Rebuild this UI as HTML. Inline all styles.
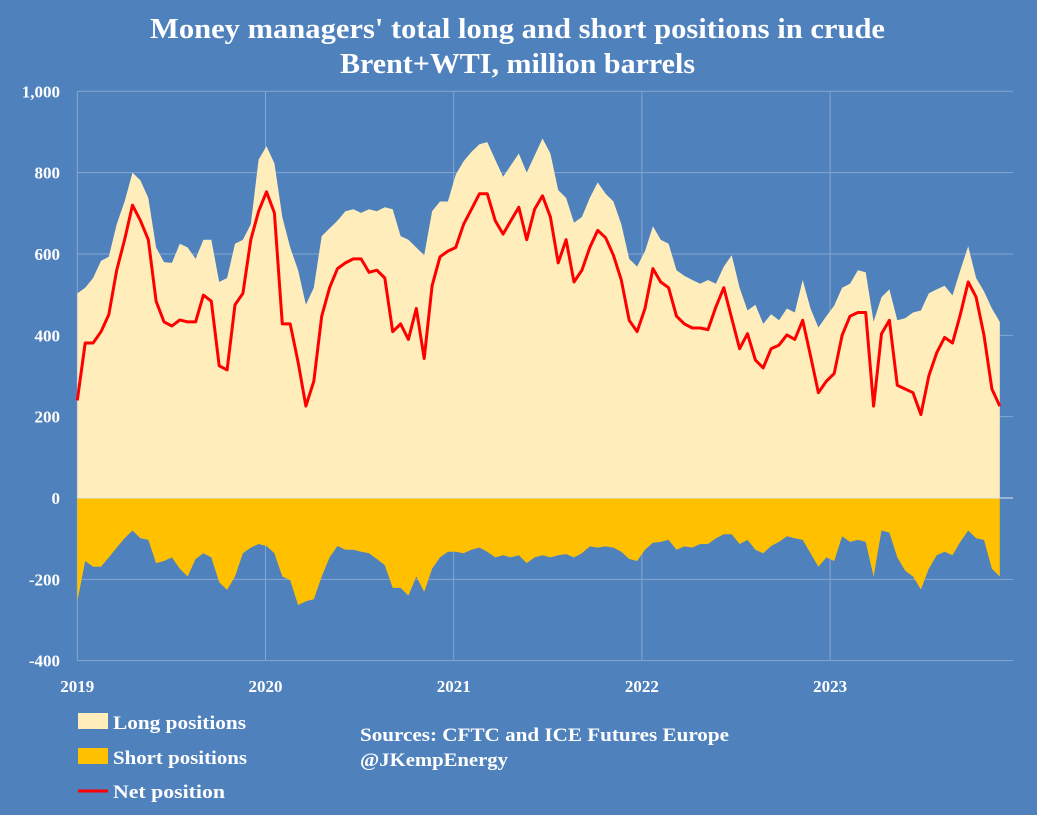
<!DOCTYPE html>
<html><head><meta charset="utf-8"><style>
html,body{margin:0;padding:0;background:#4f81bd;}
svg{display:block;font-family:"Liberation Serif",serif;}
</style></head><body>
<svg id="chart" width="1037" height="815" viewBox="0 0 1037 815">
<rect x="0" y="0" width="1037" height="815" fill="#4f81bd"/>
<text x="150" y="38" textLength="735" lengthAdjust="spacingAndGlyphs" fill="#fff" font-size="28" font-weight="bold">Money managers' total long and short positions in crude</text>
<text x="340" y="73" textLength="355" lengthAdjust="spacingAndGlyphs" fill="#fff" font-size="28" font-weight="bold">Brent+WTI, million barrels</text>
<g id="grid"></g>
<g id="areas"></g>
<g id="axes"></g>
<g>
<rect x="78" y="713" width="30" height="16" fill="#ffeebb"/>
<text x="113" y="729" textLength="133" lengthAdjust="spacingAndGlyphs" fill="#fff" font-size="19" font-weight="bold">Long positions</text>
<rect x="78" y="748" width="30" height="16" fill="#ffc000"/>
<text x="113" y="764" textLength="134" lengthAdjust="spacingAndGlyphs" fill="#fff" font-size="19" font-weight="bold">Short positions</text>
<line x1="78" y1="791" x2="108" y2="791" stroke="#ff0000" stroke-width="3"/>
<text x="113" y="798" textLength="112" lengthAdjust="spacingAndGlyphs" fill="#fff" font-size="19" font-weight="bold">Net position</text>
</g>
<text x="360" y="741" textLength="369" lengthAdjust="spacingAndGlyphs" fill="#fff" font-size="19" font-weight="bold">Sources: CFTC and ICE Futures Europe</text>
<text x="360" y="766" textLength="148" lengthAdjust="spacingAndGlyphs" fill="#fff" font-size="19" font-weight="bold">@JKempEnergy</text>
</svg>
<script>
const yearTicks=[2019,2020,2021,2022,2023];
const valueTicks=[1000,800,600,400,200,0,-200,-400];
const periodsPerYear=23.87;
const longPos=[503,517,541,583,593,673,729,800,781,738,616,580,578,625,616,588,635,635,531,541,625,635,673,832,865,823,691,616,560,475,517,644,663,682,705,710,701,710,705,715,
710,644,635,616,597,705,729,729,795,828,851,870,875,832,790,818,847,800,842,884,847,757,738,677,691,738,776,748,729,673,588,569,607,668,635,625,560,546,536,527,
536,527,569,597,517,461,475,428,452,437,466,456,536,466,419,447,473,517,527,560,555,433,494,513,437,442,456,461,503,513,522,498,560,619,541,508,466,433];
const shortPos=[-254,-155,-169,-169,-146,-122,-99,-80,-99,-103,-160,-155,-146,-174,-193,-150,-136,-146,-207,-226,-193,-136,-122,-113,-118,-136,-193,-202,-263,-254,-249,-193,-146,-118,-127,-127,-132,-136,-150,-165,
-221,-221,-240,-193,-231,-174,-146,-132,-132,-136,-127,-122,-132,-146,-141,-146,-141,-160,-146,-141,-146,-141,-138,-146,-136,-119,-122,-119,-122,-132,-150,-155,-127,-110,-108,-103,-127,-119,-122,-113,
-113,-99,-89,-89,-113,-103,-127,-136,-118,-108,-94,-99,-103,-136,-169,-146,-155,-94,-108,-103,-108,-193,-80,-85,-146,-179,-193,-225,-174,-141,-132,-141,-108,-80,-99,-103,-174,-193];
const netPos=[240,381,381,409,451,560,635,720,682,635,484,433,423,438,433,433,499,484,325,315,475,503,635,705,753,701,428,428,334,226,287,447,517,564,578,588,588,555,560,541,
409,428,390,466,343,522,593,607,616,673,710,748,748,682,649,682,715,635,710,743,691,578,635,531,560,616,658,640,597,536,437,409,466,564,531,517,447,428,418,418,
414,470,517,442,367,404,339,320,367,376,401,390,437,350,259,287,306,400,447,456,456,226,404,437,277,268,259,205,300,357,395,381,451,531,494,400,268,226];
const NS='http://www.w3.org/2000/svg';
const x0=77.3,x1=1013,yrPx=188.2;
function xScale(i){return x0+(i/periodsPerYear)*yrPx;}
function xYear(y){return x0+(y-2019)*yrPx;}
function yScale(v){return 498-v*0.4067;}
function mk(tag,attrs,parent){const e=document.createElementNS(NS,tag);for(const k in attrs)e.setAttribute(k,attrs[k]);parent.appendChild(e);return e;}
const grid=document.getElementById('grid'),areas=document.getElementById('areas'),axes=document.getElementById('axes');
valueTicks.forEach(v=>{
  const l=mk('line',{x1:x0,x2:x1,y1:yScale(v),y2:yScale(v),stroke:v===0?'#c9d6e8':'#86a6d0','stroke-width':1},grid);
  
  
  const t=mk('text',{x:60,y:yScale(v)+6,'text-anchor':'end',fill:'#fff','font-size':17,'font-weight':'bold'},axes);
  t.textContent=v.toLocaleString('en-US');
  
  
});
yearTicks.forEach(y=>{
  const l=mk('line',{x1:xYear(y),x2:xYear(y),y1:yScale(1000),y2:yScale(-400),stroke:'#86a6d0','stroke-width':1},grid);
  
  
  const t=mk('text',{x:xYear(y),y:692,'text-anchor':'middle',fill:'#fff','font-size':17,'font-weight':'bold'},axes);
  t.textContent=String(y);
  
  
});
function areaPath(arr){let d='M'+xScale(0)+','+yScale(0);arr.forEach((v,i)=>{d+=' L'+xScale(i).toFixed(1)+','+yScale(v).toFixed(1);});d+=' L'+xScale(arr.length-1).toFixed(1)+','+yScale(0)+' Z';return d;}
const la=mk('path',{d:areaPath(longPos),fill:'#ffeebb'},areas);


const sa=mk('path',{d:areaPath(shortPos),fill:'#ffc000'},areas);


const zl=mk('line',{x1:x0,x2:x1,y1:yScale(0),y2:yScale(0),stroke:'#dfe6f0','stroke-width':1},areas);


const pts=netPos.map((v,i)=>xScale(i).toFixed(1)+','+yScale(v).toFixed(1)).join(' ');
const nl=mk('polyline',{points:pts,fill:'none',stroke:'#ff0000','stroke-width':3,'stroke-linejoin':'round'},areas);


</script>
</body></html>
